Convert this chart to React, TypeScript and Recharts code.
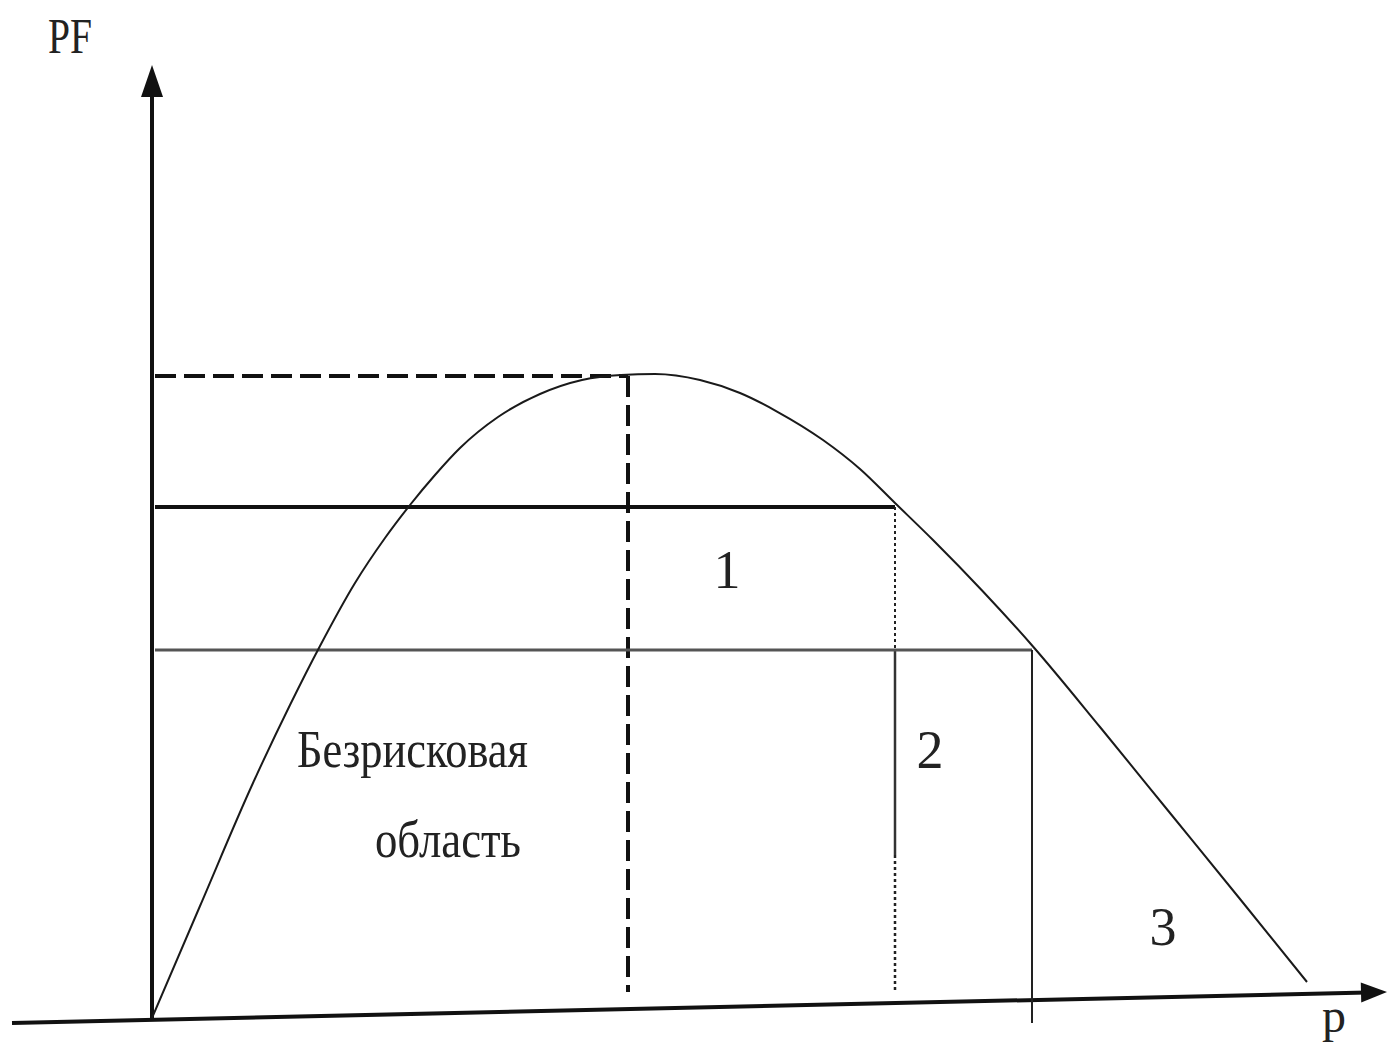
import React from 'react';
import { ComposedChart, Line, XAxis, YAxis, ReferenceLine, Scatter } from 'recharts';

// Curve PF(p) (p and PF in drawing units)
const curveP = [0, 4.8, 10.1, 13.8, 16.8, 20.3, 23.3, 25.8, 28.3, 30.8, 34.6, 38.8, 43.0, 46.9, 50.3, 54.8, 58.8, 62.5, 67.1, 70.8, 74.3, 78.1, 83.1, 88.1, 94.8, 101.8, 108.8, 115.5];
const curvePF = [0, 11.2, 23.5, 31.3, 37.2, 43.5, 48.0, 51.3, 54.3, 57.0, 60.1, 62.4, 63.8, 64.3, 64.4, 63.8, 62.5, 60.65, 57.8, 54.9, 51.5, 47.8, 42.65, 37.15, 29.1, 20.5, 11.9, 3.6];

// Key levels
const pfMax = 64.2;      // maximum PF (dashed)
const pfLevel1 = 51.1;   // level 1 (thick solid)
const pfLevel2 = 36.8;   // level 2 (thin)
const pOpt = 47.6;       // p at max PF
const pLevel1 = 74.3;    // p at level 1
const pLevel2 = 88.0;    // p at level 2

// Axes extents
const xAxisStart = { x: -14.0, y: -0.5 };
const xAxisEnd = { x: 123.5, y: 2.6 };
const yAxisTop = 95.3;

// Text labels (text, p, PF)
const labelTexts = ['PF', '1', '2', '3', 'Безрисковая', 'область', 'p'];
const labelP = [-10.4, 57.5, 77.8, 101.1, 14.5, 22.3, 117.0];
const labelPF = [96.5, 43.0, 25.0, 7.3, 25.1, 16.1, -1.4];

const curve = curveP.map((x, i) => ({ x, y: curvePF[i] }));
const labels = labelTexts.map((text, i) => ({ x: labelP[i], y: labelPF[i], text }));
const arrows = [
  { x: 0, y: yAxisTop, dir: 'up' },
  { x: xAxisEnd.x, y: xAxisEnd.y, dir: 'right' },
];

const labelStyle: Record<string, { size: number; anchor: string; len?: number }> = {
  PF: { size: 50, anchor: 'start', len: 44 },
  '1': { size: 54, anchor: 'middle' },
  '2': { size: 54, anchor: 'middle' },
  '3': { size: 54, anchor: 'middle' },
  'Безрисковая': { size: 52, anchor: 'start', len: 231 },
  'область': { size: 52, anchor: 'start', len: 146 },
  p: { size: 48, anchor: 'start' },
};

const LabelShape = (props: any) => {
  const { cx, cy, payload } = props;
  const st = labelStyle[payload.text];
  return (
    <text
      x={cx}
      y={cy}
      fontFamily="'Liberation Serif', 'DejaVu Serif', serif"
      fontSize={st.size}
      textAnchor={st.anchor as any}
      textLength={st.len}
      lengthAdjust={st.len ? 'spacingAndGlyphs' : undefined}
      fill="#222"
    >
      {payload.text}
    </text>
  );
};

const ArrowShape = (props: any) => {
  const { cx, cy, payload } = props;
  if (payload.dir === 'up') {
    return <polygon points={`${cx},${cy} ${cx - 11},${cy + 32} ${cx + 11},${cy + 32}`} fill="#111" />;
  }
  return (
    <polygon
      points={`${cx},${cy} ${cx - 26},${cy - 10} ${cx - 26},${cy + 10}`}
      fill="#111"
      transform={`rotate(-1.3 ${cx} ${cy})`}
    />
  );
};

export default function App() {
  return (
    <div style={{ position: 'absolute', left: 0, top: 0, width: 1387, height: 1050, background: '#fff' }}>
      <ComposedChart width={1387} height={1050} margin={{ top: 0, right: 0, bottom: 0, left: 0 }}>
        <XAxis type="number" dataKey="x" domain={[-15.2, 123.5]} hide allowDataOverflow />
        <YAxis type="number" dataKey="y" domain={[-3.2, 101.8]} hide allowDataOverflow />

        {/* axes */}
        <ReferenceLine segment={[{ x: 0, y: 0 }, { x: 0, y: yAxisTop - 2 }]} stroke="#111" strokeWidth={4} />
        <ReferenceLine segment={[xAxisStart, { x: xAxisEnd.x - 2, y: xAxisEnd.y - 0.05 }]} stroke="#111" strokeWidth={4} />

        {/* max PF dashed */}
        <ReferenceLine segment={[{ x: 0.3, y: pfMax }, { x: pOpt, y: pfMax }]} stroke="#111" strokeWidth={4} strokeDasharray="21 8" />
        <ReferenceLine segment={[{ x: pOpt, y: pfMax }, { x: pOpt, y: 2.6 }]} stroke="#111" strokeWidth={4} strokeDasharray="21 8" />

        {/* level 1 */}
        <ReferenceLine segment={[{ x: 0.3, y: pfLevel1 }, { x: pLevel1, y: pfLevel1 }]} stroke="#111" strokeWidth={4} />
        <ReferenceLine segment={[{ x: pLevel1, y: pfLevel1 }, { x: pLevel1, y: pfLevel2 }]} stroke="#222" strokeWidth={2} strokeDasharray="3 3" />
        <ReferenceLine segment={[{ x: pLevel1, y: pfLevel2 }, { x: pLevel1, y: 16.3 }]} stroke="#333" strokeWidth={2.5} />
        <ReferenceLine segment={[{ x: pLevel1, y: 16.3 }, { x: pLevel1, y: 2.5 }]} stroke="#222" strokeWidth={2.5} strokeDasharray="3 3" />

        {/* level 2 */}
        <ReferenceLine segment={[{ x: 0.3, y: pfLevel2 }, { x: pLevel2, y: pfLevel2 }]} stroke="#555" strokeWidth={3} />
        <ReferenceLine segment={[{ x: pLevel2, y: pfLevel2 }, { x: pLevel2, y: -0.5 }]} stroke="#222" strokeWidth={2} />

        <Line
          data={curve}
          dataKey="y"
          type="monotone"
          stroke="#1a1a1a"
          strokeWidth={2}
          dot={false}
          activeDot={false}
          isAnimationActive={false}
        />

        <Scatter data={arrows} dataKey="y" shape={ArrowShape} isAnimationActive={false} />
        <Scatter data={labels} dataKey="y" shape={LabelShape} isAnimationActive={false} />
      </ComposedChart>
    </div>
  );
}
